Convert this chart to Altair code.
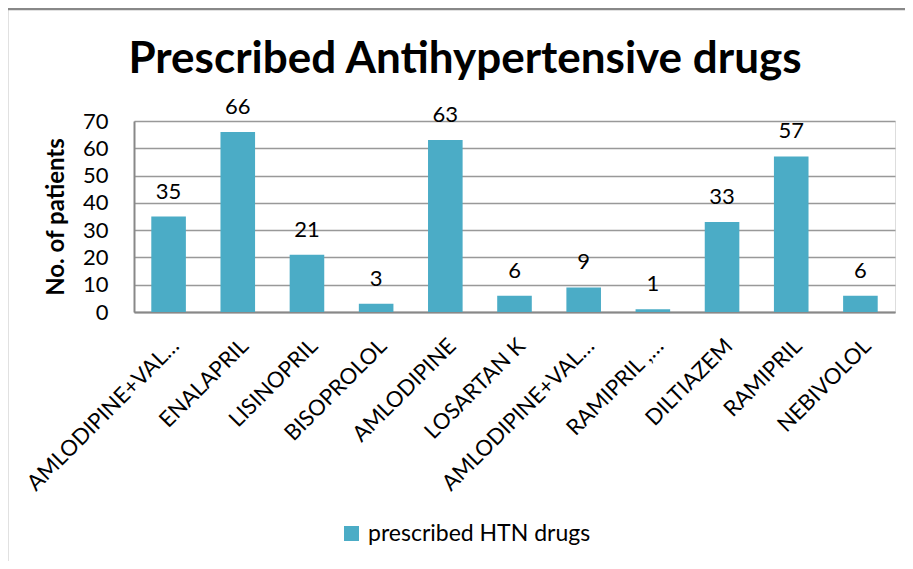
import altair as alt
import pandas as pd

drugs = ["AMLODIPINE+VAL…", "ENALAPRIL", "LISINOPRIL", "BISOPROLOL", "AMLODIPINE",
         "LOSARTAN K", "AMLODIPINE+VAL…", "RAMIPRIL ,…", "DILTIAZEM", "RAMIPRIL", "NEBIVOLOL"]
patients = [35, 66, 21, 3, 63, 6, 9, 1, 33, 57, 6]
series = "prescribed HTN drugs"
chart_title = "Prescribed Antihypertensive drugs"

df = pd.DataFrame({
    "idx": list(range(len(drugs))),
    "drug": drugs,
    "patients": patients,
    "series": [series] * len(drugs),
})

FONT = "Lato"
label_arr = "[" + ",".join("'" + d + "'" for d in drugs) + "]"

x = alt.X("idx:O", scale=alt.Scale(paddingInner=0.5, paddingOuter=0.25),
          axis=alt.Axis(title=None, labelExpr=label_arr + "[datum.value]",
                        labelAngle=-45, labelAlign="right", labelBaseline="middle",
                        labelFontSize=22, labelFont=FONT,
                        labelColor="#000", labelPadding=30, labelOffset=7, ticks=False,
                        domainColor="#888", domainWidth=2, labelLimit=400))
y = alt.Y("patients:Q", scale=alt.Scale(domain=[0, 70], nice=False),
          axis=alt.Axis(title="No. of patients", titleFont=FONT, titleFontSize=24,
                        titleFontWeight="bold", titleColor="#000", titlePadding=14,
                        values=list(range(0, 71, 10)), labelFont=FONT, labelFontSize=22,
                        labelColor="#000", ticks=False, labelPadding=26,
                        domainColor="#888", domainWidth=2,
                        gridColor="#999", gridWidth=1.5))

bars = alt.Chart(df).mark_bar(color="#4BACC6").encode(
    x=x, y=y,
    color=alt.Color("series:N", scale=alt.Scale(range=["#4BACC6"]),
                    legend=alt.Legend(title=None, orient="none", legendX=206, legendY=401,
                                      labelFont=FONT, labelFontSize=23, labelColor="#000",
                                      labelLimit=500, symbolType="square", symbolSize=225,
                                      symbolStrokeWidth=0, labelOffset=5)),
)
texts = alt.Chart(df).mark_text(font=FONT, fontSize=22, color="#000", dy=-18,
                                baseline="alphabetic").encode(
    x=x, y=y, text="patients:Q")

frame = alt.Chart(df.head(1)).mark_rect(fill=None, stroke="#888", strokeWidth=2.5,
                                         clip=False).encode(
    x=alt.value(-127), x2=alt.value(1100), y=alt.value(-112), y2=alt.value(800))

title_df = pd.DataFrame({"t": [chart_title]})
title = alt.Chart(title_df).mark_text(font=FONT, fontSize=44, fontWeight="bold",
                                      color="#000", baseline="alphabetic", align="center",
                                      clip=False).encode(
    x=alt.value(331), y=alt.value(-48), text="t:N")

chart = alt.layer(frame, bars, texts, title).properties(
    width=761, height=191,
    autosize=alt.AutoSizeParams(type="none"),
    padding={"left": 126, "top": 113, "right": 10, "bottom": 249},
).configure_view(stroke=None).configure(background="white")

chart.save("out.html", embed_options={"renderer": "svg", "actions": False})
